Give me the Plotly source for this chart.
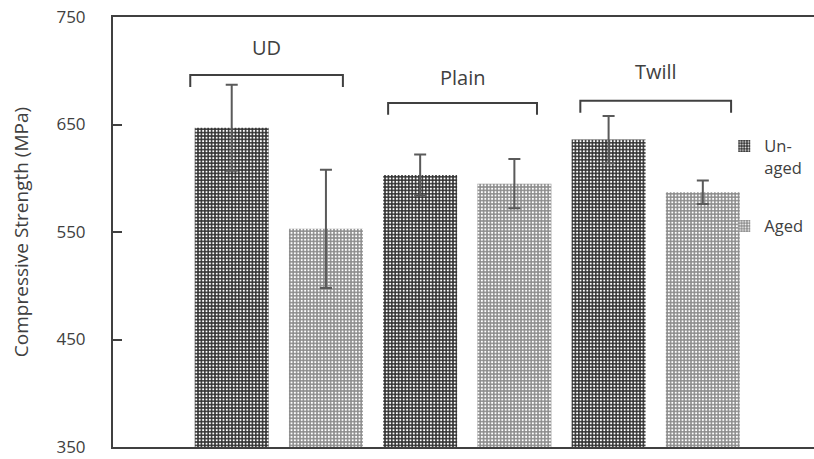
import plotly.graph_objects as go

# ---- data ----
categories = ["UD", "Plain", "Twill"]
series_names = ["Un-<br>aged", "Aged"]
unaged = [647, 603, 636]
unaged_err = [40, 19, 22]
aged = [553, 595, 587]
aged_err = [55, 23, 11]
y_ticks = [350, 450, 550, 650, 750]

# ---- styling / layout config (not data) ----
FONT = "Open Sans"
LINE = "#404040"
ERR = "#5a5a5a"
bracket_cfg = [  # (left offset, right offset, top y, label y) relative to group index
    (-0.47, 0.34, 696, 722),
    (-0.42, 0.37, 670, 694),
    (-0.40, 0.40, 672, 699),
]
bracket_drop = 11

fig = go.Figure()
fig.add_trace(go.Bar(
    x=categories, y=unaged, name=series_names[0], legendgroup="a",
    marker=dict(color="#333333", line=dict(width=0),
                pattern=dict(shape=".", bgcolor="#333333", fgcolor="#ffffff",
                             size=3.4, solidity=0.3, fillmode="replace")),
    error_y=dict(type="data", array=unaged_err, color=ERR, thickness=2, width=6),
))
fig.add_trace(go.Bar(
    x=categories, y=aged, name=series_names[1], legendgroup="b",
    marker=dict(color="#8c8c8c", line=dict(width=0),
                pattern=dict(shape=".", bgcolor="#8c8c8c", fgcolor="#ffffff",
                             size=3.4, solidity=0.3, fillmode="replace")),
    error_y=dict(type="data", array=aged_err, color=ERR, thickness=2, width=6),
))

shapes = []
annotations = []
for i, (cat, (lo, hi, top, ly)) in enumerate(zip(categories, bracket_cfg)):
    x0, x1 = i + lo, i + hi
    shapes.append(dict(type="path",
                       path=f"M {x0},{top - bracket_drop} L {x0},{top} L {x1},{top} L {x1},{top - bracket_drop}",
                       xref="x", yref="y", line=dict(color=LINE, width=2)))
    annotations.append(dict(x=(x0 + x1) / 2, y=ly, xref="x", yref="y", text=cat,
                            showarrow=False, font=dict(family=FONT, size=20, color="#404040")))

fig.update_layout(
    width=814, height=459,
    margin=dict(l=113, r=0, t=17, b=12),
    paper_bgcolor="white", plot_bgcolor="white",
    barmode="group", bargap=0.0, bargroupgap=0.215,
    font=dict(family=FONT, size=16, color="#404040"),
    showlegend=True,
    legend=dict(x=0.872, y=0.74, xanchor="left", yanchor="top",
                traceorder="grouped", tracegroupgap=34, valign="top",
                font=dict(family=FONT, size=16.5, color="#404040"),
                bgcolor="rgba(0,0,0,0)", itemwidth=30, borderwidth=0),
    shapes=shapes, annotations=annotations,
)
fig.update_xaxes(type="category", categoryorder="array", categoryarray=categories,
                 range=[-0.88, 2.84], showticklabels=False, ticks="",
                 showline=True, mirror=True, linecolor=LINE, linewidth=2,
                 showgrid=False, zeroline=False)
fig.update_yaxes(range=[350, 750], tickvals=y_ticks, ticks="inside", ticklen=9,
                 tickwidth=1.5, tickcolor=LINE, ticklabelstandoff=22,
                 ticklabeloverflow="allow",
                 showline=True, linecolor=LINE, linewidth=2,
                 showgrid=False, zeroline=False,
                 tickfont=dict(family=FONT, size=17, color="#404040"),
                 title=dict(text="Compressive Strength (MPa)", standoff=23,
                            font=dict(family=FONT, size=19, color="#404040")))

# remove the browser's default 8px body margin so the figure fills the window
fig.write_html("out.html", config={"displayModeBar": False},
               post_script="document.body.style.margin='0px';")
